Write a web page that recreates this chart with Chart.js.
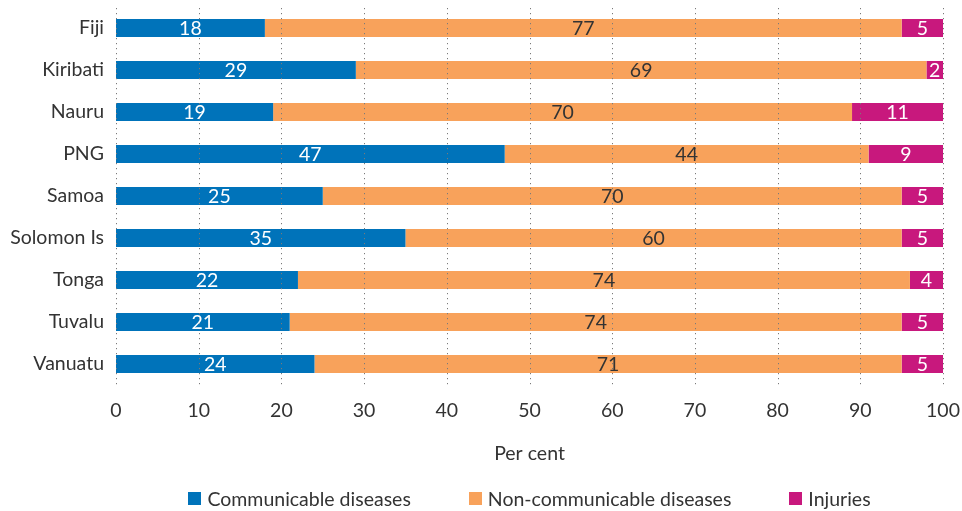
<!DOCTYPE html>
<html>
<head>
<meta charset="utf-8">
<script src="https://cdn.jsdelivr.net/npm/chart.js@4/dist/chart.umd.min.js"></script>
<style>
  html, body { margin: 0; padding: 0; background: #fff; }
  #wrap { width: 962px; height: 511px; position: relative; }
</style>
</head>
<body>
<div id="wrap"><canvas id="c"></canvas></div>
<script>
// Share of deaths by cause, per cent
const countries = ['Fiji', 'Kiribati', 'Nauru', 'PNG', 'Samoa', 'Solomon Is', 'Tonga', 'Tuvalu', 'Vanuatu'];
const communicable = [18, 29, 19, 47, 25, 35, 22, 21, 24];
const nonCommunicable = [77, 69, 70, 44, 70, 60, 74, 74, 71];
const injuries = [5, 2, 11, 9, 5, 5, 4, 5, 5];
const xTicks = [0, 10, 20, 30, 40, 50, 60, 70, 80, 90, 100];

const FONT_FAMILY = "Lato, 'Open Sans', sans-serif";
const FONT_SIZE = 19.5;
const TEXT = '#333333';

// Dotted vertical grid drawn over the bars
const gridOverBars = {
  id: 'gridOverBars',
  afterDatasetsDraw(chart) {
    const { ctx, chartArea, scales } = chart;
    ctx.save();
    ctx.strokeStyle = '#7a7a7a';
    ctx.lineWidth = 1;
    ctx.setLineDash([1.2, 3.8]);
    xTicks.forEach(v => {
      const x = Math.round(scales.x.getPixelForValue(v)) + 0.5;
      ctx.beginPath();
      ctx.moveTo(x, chartArea.top + 1);
      ctx.lineTo(x, chartArea.bottom);
      ctx.stroke();
    });
    ctx.restore();
  }
};

// Value labels centred in each segment
const segmentLabels = {
  id: 'segmentLabels',
  afterDatasetsDraw(chart) {
    const { ctx } = chart;
    ctx.save();
    ctx.font = `${FONT_SIZE}px ${FONT_FAMILY}`;
    ctx.textAlign = 'center';
    ctx.textBaseline = 'middle';
    chart.data.datasets.forEach((ds, i) => {
      const meta = chart.getDatasetMeta(i);
      meta.data.forEach((bar, j) => {
        const cx = (bar.x + bar.base) / 2;
        ctx.fillStyle = ds.labelColor;
        ctx.fillText(String(ds.data[j]), cx, bar.y + 1);
      });
    });
    ctx.restore();
  }
};

// Legend row centred under the plot area
const bottomLegend = {
  id: 'bottomLegend',
  afterDraw(chart) {
    const { ctx, chartArea } = chart;
    const box = 13, gapText = 6, gapItem = 58;
    ctx.save();
    ctx.font = `${FONT_SIZE}px ${FONT_FAMILY}`;
    ctx.textBaseline = 'middle';
    ctx.textAlign = 'left';
    const items = chart.data.datasets.map(ds => ({
      text: ds.label, color: ds.backgroundColor, w: ctx.measureText(ds.label).width
    }));
    const total = items.reduce((s, it) => s + box + gapText + it.w, 0) + gapItem * (items.length - 1);
    let x = (chartArea.left + chartArea.right) / 2 - total / 2;
    const y = 498.5;
    items.forEach(it => {
      ctx.fillStyle = it.color;
      ctx.fillRect(Math.round(x), Math.round(y - box / 2), box, box);
      ctx.fillStyle = TEXT;
      ctx.fillText(it.text, x + box + gapText, y + 1);
      x += box + gapText + it.w + gapItem;
    });
    ctx.restore();
  }
};

new Chart(document.getElementById('c'), {
  type: 'bar',
  data: {
    labels: countries,
    datasets: [
      { label: 'Communicable diseases', data: communicable, backgroundColor: '#0073BA', labelColor: '#ffffff' },
      { label: 'Non-communicable diseases', data: nonCommunicable, backgroundColor: '#F8A25B', labelColor: TEXT },
      { label: 'Injuries', data: injuries, backgroundColor: '#C8187D', labelColor: '#ffffff' }
    ]
  },
  options: {
    indexAxis: 'y',
    responsive: true,
    maintainAspectRatio: false,
    animation: false,
    categoryPercentage: 1,
    barPercentage: 0.43,
    layout: { padding: { top: 7, right: 19, left: 0, bottom: 46 } },
    scales: {
      x: {
        stacked: true,
        min: 0, max: 100,
        afterBuildTicks(scale) { scale.ticks = xTicks.map(v => ({ value: v })); },
        afterFit(scale) { scale.paddingLeft = 0; scale.paddingRight = 0; scale.height = 80; },
        grid: { display: false, drawTicks: false },
        border: { display: false },
        ticks: { color: TEXT, font: { family: FONT_FAMILY, size: FONT_SIZE }, padding: 14, maxRotation: 0 },
        title: { display: true, text: 'Per cent', color: TEXT, font: { family: FONT_FAMILY, size: FONT_SIZE }, padding: { top: 18, bottom: 0 } }
      },
      y: {
        stacked: true,
        afterFit(scale) { scale.width = 116; scale.paddingTop = 0; scale.paddingBottom = 0; },
        grid: { display: false, drawTicks: false },
        border: { display: false },
        ticks: { color: TEXT, font: { family: FONT_FAMILY, size: FONT_SIZE }, padding: 12 }
      }
    },
    plugins: {
      legend: { display: false },
      tooltip: { enabled: false }
    }
  },
  plugins: [gridOverBars, segmentLabels, bottomLegend]
});
</script>
</body>
</html>
